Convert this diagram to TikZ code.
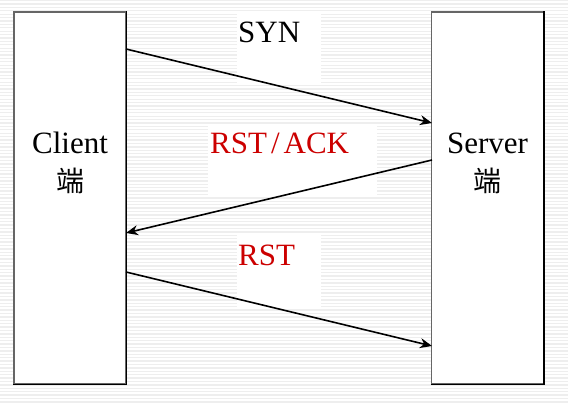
\documentclass[tikz,border=0pt]{standalone}
\usepackage{fontspec}
\setmainfont{Liberation Serif}
\newfontfamily\cjk{Noto Sans CJK SC}
\usetikzlibrary{arrows.meta}
\definecolor{labred}{RGB}{204,0,0}
\definecolor{stripe}{RGB}{238,238,238}
\tikzset{
  endbox/.style={rectangle, fill=white, draw=black!60, line width=1.2pt, minimum width=112pt, minimum height=372pt, inner sep=0pt},
  lbl/.style={inner sep=0pt, font=\fontsize{31}{36}\selectfont},
  cjklbl/.style={inner sep=0pt, font=\fontsize{28}{32}\selectfont\cjk},
  msg/.style={line width=1.6pt, -{Stealth[length=12pt,width=10pt]}},
  labbg/.style={fill=white}
}
\begin{document}
\begin{tikzpicture}[x=1pt,y=-1pt]
\useasboundingbox (0,0) rectangle (568,404);
\fill[white] (0,0) rectangle (568,404);
\foreach \i in {0,...,120}{
  \fill[stripe] (0,{\i*3.4}) rectangle (568,{\i*3.4+1.3});
}
% label backgrounds
\fill[labbg] (237,12) rectangle (321,85);
\fill[labbg] (208,124) rectangle (377,197);
\fill[labbg] (237,235) rectangle (321,307);
% end boxes
\node[endbox] (client) at (70,198) {};
\node[endbox] (server) at (487.5,198) {};
\draw[black, line width=1.6pt] (client.north east) -- (client.south east) -- (client.south west);
\draw[black, line width=1.6pt] (server.north east) -- (server.south east) -- (server.south west);
% connector end points
\coordinate (c1) at (126,49);
\coordinate (s1) at (432,123);
\coordinate (s2) at (432,160);
\coordinate (c2) at (126,233);
\coordinate (c3) at (126,272);
\coordinate (s3) at (432,346);
\draw[msg] (c1) -- (s1);
\draw[msg] (s2) -- (c2);
\draw[msg] (c3) -- (s3);
% texts
\node[lbl, anchor=base] (clientname) at (70,153) {Client};
\node[cjklbl] (clientduan) at (70,181) {端};
\node[lbl, anchor=base] (servername) at (487.5,153) {Server};
\node[cjklbl] (serverduan) at (487.5,181) {端};
\node[lbl, anchor=base west] (syn) at (238,43) {SYN};
\node[lbl, anchor=base west, text=labred] (rstack) at (210,153) {RST\kern4pt/\kern4pt ACK};
\node[lbl, anchor=base west, text=labred] (rst) at (238,265) {RST};
\end{tikzpicture}
\end{document}
